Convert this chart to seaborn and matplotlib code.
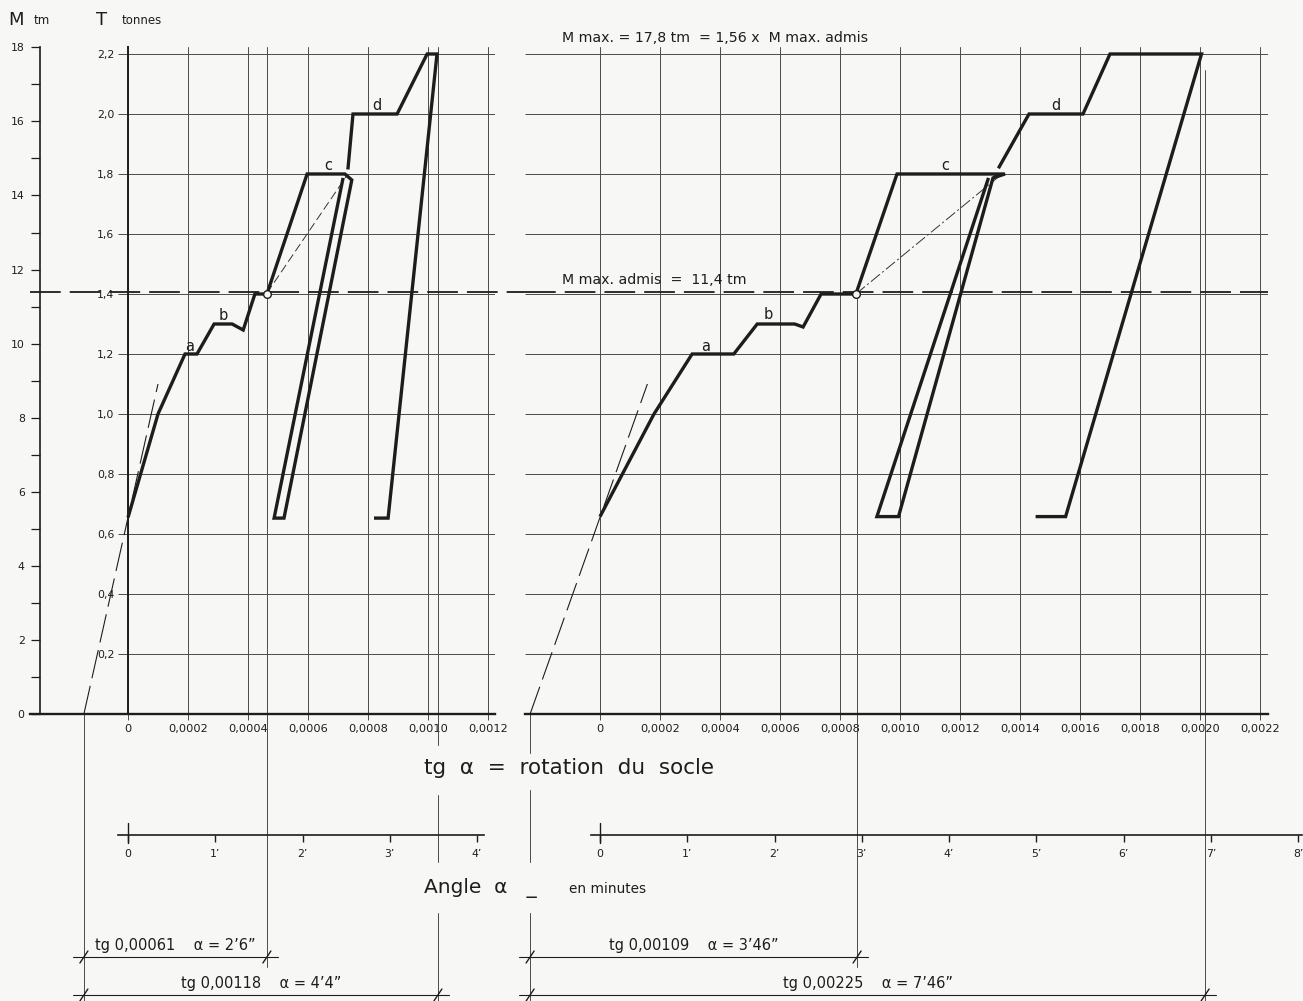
import numpy as np
import pandas as pd
import matplotlib
matplotlib.use("Agg")
import matplotlib.pyplot as plt
import matplotlib.transforms as mtransforms
import seaborn as sns

# ---------------- data ----------------
# left diagram : T (tonnes) versus tg alpha
left_seg1_x = [0, 0.0001, 0.00019, 0.00023, 0.000287, 0.000347, 0.000384, 0.000423,
               0.000463, 0.000597, 0.000723, 0.000746, 0.00052, 0.000487, 0.000717]
left_seg1_T = [0.655, 1.0, 1.2, 1.2, 1.3, 1.3, 1.28, 1.40, 1.40, 1.8, 1.8, 1.78,
               0.653, 0.653, 1.787]
left_seg2_x = [0.000733, 0.00075, 0.000897, 0.000997, 0.00103, 0.000867, 0.00082]
left_seg2_T = [1.815, 2.0, 2.0, 2.2, 2.2, 0.653, 0.653]

# right diagram
right_seg1_x = [0, 0.00018, 0.000307, 0.000446, 0.000524, 0.000649, 0.000677, 0.000737,
                0.000853, 0.00099, 0.00135, 0.00131, 0.000995, 0.000923, 0.001295]
right_seg1_T = [0.658, 1.0, 1.2, 1.2, 1.3, 1.3, 1.29, 1.40, 1.40, 1.8, 1.8, 1.787,
                0.658, 0.658, 1.787]
right_seg2_x = [0.001328, 0.00143, 0.00161, 0.0017, 0.002005, 0.001552, 0.001452]
right_seg2_T = [1.819, 2.0, 2.0, 2.2, 2.2, 0.658, 0.658]

# secant (thin dashed) lines
left_secant_x = [0.000463, 0.000733]
left_secant_T = [1.403, 1.80]
right_secant_x = [0.000853, 0.00134]
right_secant_T = [1.40, 1.80]

# tangent (long dashed) lines at origin
left_tangent_x = [-0.000147, 0.0001]
left_tangent_T = [0.0, 1.1]
right_tangent_x = [-0.000233, 0.000158]
right_tangent_T = [0.0, 1.1]

# circles
left_circle = (0.000463, 1.40)
right_circle = (0.000853, 1.40)

# curve labels
left_labels = {"a": (0.000207, 1.225), "b": (0.000317, 1.328), "c": (0.000667, 1.828), "d": (0.00083, 2.028)}
right_labels = {"a": (0.000353, 1.225), "b": (0.00056, 1.332), "c": (0.00115, 1.828), "d": (0.00152, 2.028)}

M_RATIO = 8.1            # M (tm) = 8.1 * T (tonnes)
M_ADMIS = 11.4           # tm
T_ticks = [0.2, 0.4, 0.6, 0.8, 1.0, 1.2, 1.4, 1.6, 1.8, 2.0, 2.2]
M_ticks = list(range(0, 19, 2))
M_minor = list(range(1, 18, 2))
left_xticks = [0, 0.0002, 0.0004, 0.0006, 0.0008, 0.0010, 0.0012]
right_xticks = [0, 0.0002, 0.0004, 0.0006, 0.0008, 0.0010, 0.0012, 0.0014, 0.0016,
                0.0018, 0.0020, 0.0022]
left_minutes = [0, 1, 2, 3, 4]
right_minutes = [0, 1, 2, 3, 4, 5, 6, 7, 8]

# dimensions: (origin, tg value, text)
left_dims = [(-0.000147, 0.00061, "tg 0,00061    \u03b1 = 2\u20196\u201d"),
             (-0.000147, 0.00118, "tg 0,00118    \u03b1 = 4\u20194\u201d")]
right_dims = [(-0.000233, 0.00109, "tg 0,00109    \u03b1 = 3\u201946\u201d"),
              (-0.000233, 0.00225, "tg 0,00225    \u03b1 = 7\u201946\u201d")]

# ---------------- style ----------------
sns.set_theme(style="white")
plt.rcParams["font.family"] = ["DejaVu Sans"]
INK = "#1d1d1d"
GRID = "#4a4a4a"
BG = "#f7f7f5"

W, H = 1303, 1001
fig = plt.figure(figsize=(W / 100, H / 100), dpi=100)
fig.patch.set_facecolor(BG)

PX = 300000.0   # px per unit of tg
PY = 300.0      # px per tonne
Y0, YTOP = 714, 47
PXMIN = 87.27   # px per minute of angle


def fx(px):
    return px / W


def fy(py):
    return 1 - py / H


def T_of(py):
    return (Y0 - py) / PY


def fmt_tg(v):
    return "0" if v == 0 else f"{v:.4f}".replace(".", ",")


def add_panel(xl, xr, zero):
    ax = fig.add_axes([fx(xl), fy(Y0), (xr - xl) / W, (Y0 - YTOP) / H])
    ax.set_xlim((xl - zero) / PX, (xr - zero) / PX)
    ax.set_ylim(0, (Y0 - YTOP) / PY)
    ax.set_facecolor("none")
    for s in ["top", "right", "left"]:
        ax.spines[s].set_visible(False)
    ax.spines["bottom"].set_color(INK)
    ax.spines["bottom"].set_linewidth(1.7)
    return ax


ax_l = add_panel(30, 495, 128)
ax_r = add_panel(525, 1268, 600)

# --- left panel axes ---
ax_l.spines["left"].set_visible(True)
ax_l.spines["left"].set_position(("data", 0))
ax_l.spines["left"].set_color(INK)
ax_l.spines["left"].set_linewidth(1.4)
ax_l.set_yticks(T_ticks)
ax_l.set_yticklabels([f"{t:.1f}".replace(".", ",") for t in T_ticks])
ax_l.tick_params(axis="y", direction="out", length=7.2, width=0.7, color=GRID,
                 labelsize=7.8, pad=2.5, left=True, labelcolor=INK)
ax_l.set_xticks(left_xticks)
ax_l.set_xticklabels([fmt_tg(v) for v in left_xticks])
ax_l.tick_params(axis="x", direction="out", length=4.5, width=0.7, color=GRID,
                 labelsize=8.2, pad=3, bottom=True, labelcolor=INK)
ax_l.grid(axis="x", color=GRID, lw=0.7)
ax_l.grid(axis="y", visible=False)
ax_l.hlines(T_ticks, 0, ax_l.get_xlim()[1], color=GRID, lw=0.7, zorder=1)

# --- right panel axes ---
ax_r.set_yticks([])
ax_r.set_xticks(right_xticks)
ax_r.set_xticklabels([fmt_tg(v) for v in right_xticks])
ax_r.tick_params(axis="x", direction="out", length=4.5, width=0.7, color=GRID,
                 labelsize=8.2, pad=3, bottom=True, labelcolor=INK)
ax_r.grid(axis="x", color=GRID, lw=0.7)
ax_r.grid(axis="y", visible=False)
ax_r.hlines(T_ticks, ax_r.get_xlim()[0], ax_r.get_xlim()[1], color=GRID, lw=0.7, zorder=1)

# --- M axis (secondary) ---
sec = ax_l.secondary_yaxis((40 - 30) / 465, functions=(lambda t: t * M_RATIO, lambda m: m / M_RATIO))
sec.set_yticks(M_ticks)
sec.set_yticklabels([str(m) for m in M_ticks])
sec.set_yticks(M_minor, minor=True)
sec.tick_params(axis="y", which="major", direction="out", length=6.5, width=0.9, color=INK,
                labelsize=7.8, pad=4.5, labelcolor=INK)
sec.tick_params(axis="y", which="minor", direction="out", length=6.5, width=0.9, color=INK)
for s in sec.spines.values():
    s.set_color(INK)
    s.set_linewidth(1.2)

# ---------------- curves ----------------
def curve_df(s1x, s1T, s2x, s2T):
    return pd.DataFrame({
        "tg": s1x + s2x,
        "T": s1T + s2T,
        "seg": [1] * len(s1x) + [2] * len(s2x),
    })


df_l = curve_df(left_seg1_x, left_seg1_T, left_seg2_x, left_seg2_T)
df_r = curve_df(right_seg1_x, right_seg1_T, right_seg2_x, right_seg2_T)

for ax, df in [(ax_l, df_l), (ax_r, df_r)]:
    n0 = len(ax.lines)
    sns.lineplot(data=df, x="tg", y="T", units="seg", estimator=None, sort=False,
                 color=INK, lw=2.4, ax=ax, legend=False, zorder=5)
    for ln in ax.lines[n0:]:
        ln.set_solid_joinstyle("miter")
        ln.set_solid_capstyle("butt")
    ax.set_xlabel("")
    ax.set_ylabel("")

# secants
ax_l.plot(left_secant_x, left_secant_T, color="#333333", lw=0.7, dashes=(9, 4), zorder=4)
ax_r.plot(right_secant_x, right_secant_T, color="#333333", lw=0.7, dashes=(12, 3, 2, 3), zorder=4)
# tangents
ax_l.plot(left_tangent_x, left_tangent_T, color=INK, lw=0.8, dashes=(26, 7), zorder=4, clip_on=False)
ax_r.plot(right_tangent_x, right_tangent_T, color=INK, lw=0.8, dashes=(26, 7), zorder=4, clip_on=False)
# circles
ax_l.plot(*left_circle, "o", ms=5.5, mfc=BG, mec=INK, mew=1.0, zorder=7)
ax_r.plot(*right_circle, "o", ms=5.5, mfc=BG, mec=INK, mew=1.0, zorder=7)

# M max admissible dashed line
T_adm = M_ADMIS / M_RATIO
ax_l.plot([ax_l.get_xlim()[0], (525 - 128) / PX], [T_adm, T_adm], color=INK, lw=1.3,
          dashes=(17, 5), clip_on=False, zorder=3)
ax_r.plot(list(ax_r.get_xlim()), [T_adm, T_adm], color=INK, lw=1.3,
          dashes=(17, 5), clip_on=False, zorder=3)

# curve labels
for ax, labs in [(ax_l, left_labels), (ax_r, right_labels)]:
    for k, (xv, tv) in labs.items():
        ax.text(xv, tv, k, fontsize=10.5, color=INK, ha="center", va="center", zorder=8)

# ---------------- extension lines ----------------
EXT = dict(color=GRID, lw=0.7, clip_on=False, zorder=2)
TBOT = T_of(1001)
TT = ax_l.get_ylim()[1]
ax_l.plot([left_dims[0][0]] * 2, [0, TBOT], **EXT)
ax_l.plot([left_dims[0][0] + left_dims[0][1]] * 2, [TT, T_of(967)], **EXT)
xe = left_dims[1][0] + left_dims[1][1]
for a, b in [(TT, T_of(745)), (T_of(795), T_of(862)), (T_of(913), TBOT)]:
    ax_l.plot([xe, xe], [a, b], **EXT)

xo = right_dims[0][0]
for a, b in [(0, T_of(753)), (T_of(790), T_of(862)), (T_of(913), TBOT)]:
    ax_r.plot([xo, xo], [a, b], **EXT)
ax_r.plot([xo + right_dims[0][1]] * 2, [1.40, T_of(967)], **EXT)
ax_r.plot([xo + right_dims[1][1]] * 2, [T_of(70), TBOT], **EXT)

# ---------------- dimension lines ----------------
dim_rows = [(957, 945), (995, 983)]
for ax, dims in [(ax_l, left_dims), (ax_r, right_dims)]:
    for (x0, val, txt), (yl, yt) in zip(dims, dim_rows):
        x1 = x0 + val
        tl = T_of(yl)
        ext = 11 / PX
        ax.plot([x0 - ext, x1 + ext], [tl, tl], color=INK, lw=0.8, clip_on=False)
        for xx in (x0, x1):
            ax.plot([xx - 4 / PX, xx + 4 / PX], [tl - 6 / PY, tl + 6 / PY], color=INK, lw=1.0,
                    clip_on=False)
        ax.text((x0 + x1) / 2, T_of(yt), txt, fontsize=10.5, color=INK, ha="center",
                va="center", clip_on=False)

# ---------------- angle scales (minutes) ----------------
trans_fig = fig.transFigure


def angle_axis(xl, xr, zero, minutes):
    ax = fig.add_axes([fx(xl), fy(835), (xr - xl) / W, 0.0001])
    ax.set_xlim((xl - zero) / PXMIN, (xr - zero) / PXMIN)
    ax.set_ylim(0, 1)
    ax.set_facecolor("none")
    for s in ["top", "right", "left"]:
        ax.spines[s].set_visible(False)
    ax.spines["bottom"].set_color(INK)
    ax.spines["bottom"].set_linewidth(1.2)
    ax.set_yticks([])
    ax.set_xticks(minutes)
    ax.set_xticklabels(["0"] + [f"{m}\u2019" for m in minutes[1:]])
    ax.tick_params(axis="x", direction="out", length=5, width=1.0, color=INK,
                   labelsize=7.8, pad=5, bottom=True, labelcolor=INK)
    tr = mtransforms.blended_transform_factory(ax.transData, trans_fig)
    ax.plot([0, 0], [fy(823), fy(843)], color=INK, lw=1.0, transform=tr, clip_on=False)
    return ax


angle_axis(118, 484, 128, left_minutes)
angle_axis(591, 1302, 600, right_minutes)

# ---------------- texts ----------------
fig.text(fx(8), fy(20), "M", fontsize=13, color=INK, va="center", ha="left")
fig.text(fx(34), fy(21), "tm", fontsize=8.5, color=INK, va="center", ha="left")
fig.text(fx(96), fy(20), "T", fontsize=13, color=INK, va="center", ha="left")
fig.text(fx(122), fy(21), "tonnes", fontsize=8.5, color=INK, va="center", ha="left")

fig.text(fx(562), fy(38), "M max. = 17,8 tm  = 1,56 x  M max. admis", fontsize=10.2,
         color=INK, va="center", ha="left")
fig.text(fx(562), fy(280), "M max. admis  =  11,4 tm", fontsize=10.2,
         color=INK, va="center", ha="left")

fig.text(fx(424), fy(768), "tg  \u03b1  =  rotation  du  socle", fontsize=15.5, color=INK,
         va="center", ha="left")
fig.text(fx(424), fy(888), "Angle  \u03b1   _", fontsize=14.5, color=INK, va="center", ha="left")
fig.text(fx(569), fy(889), "en minutes", fontsize=9.8, color=INK, va="center", ha="left")

fig.savefig("out.png", dpi=100, facecolor=BG)
